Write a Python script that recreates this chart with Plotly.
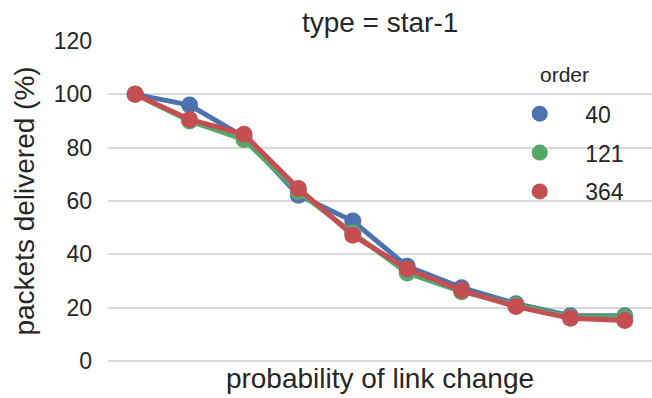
import plotly.graph_objects as go

# probability-of-link-change steps (categorical x, labels hidden)
link_change = ["0.0", "0.1", "0.2", "0.3", "0.4", "0.5", "0.6", "0.7", "0.8", "0.9"]

# packets delivered (%) per network order
order_40 = [100, 96, 84, 62.2, 52.5, 35.5, 27.5, 21.5, 17, 17]
order_121 = [100, 90, 83, 63.5, 48, 33, 26, 21, 16.5, 16.5]
order_364 = [100, 90.6, 85, 64.7, 47.2, 34.5, 26.5, 20.4, 16, 15.2]

series = [
    ("40", order_40, "#4C72B0"),
    ("121", order_121, "#55A868"),
    ("364", order_364, "#C44E52"),
]

FONT = "Liberation Sans, Arial, sans-serif"
TEXT = "#262626"

fig = go.Figure()
for name, vals, color in series:
    fig.add_trace(go.Scatter(
        x=link_change, y=vals, mode="lines",
        line=dict(color=color, width=5),
        showlegend=False, legendgroup=name, hoverinfo="skip",
        cliponaxis=False,
    ))
    fig.add_trace(go.Scatter(
        x=link_change, y=vals, mode="markers", name=name,
        marker=dict(color=color, size=17),
        legendgroup=name, cliponaxis=False,
    ))

fig.update_layout(
    width=652, height=398,
    margin=dict(l=108, r=0, t=41, b=37),
    paper_bgcolor="white", plot_bgcolor="white",
    font=dict(family=FONT, color=TEXT, size=23),
    title=dict(text="type = star-1", x=0.583, xanchor="center",
               y=0.945, yanchor="middle", font=dict(size=28, color=TEXT)),
    legend=dict(
        x=0.710, xanchor="left", y=0.840, yanchor="top",
        bgcolor="rgba(0,0,0,0)", font=dict(size=23),
        tracegroupgap=6, itemwidth=81,
    ),
    annotations=[dict(
        text="order", xref="paper", yref="paper", x=0.840, y=0.894,
        xanchor="center", yanchor="middle", showarrow=False,
        font=dict(size=21, color=TEXT),
    )],
)

fig.update_xaxes(
    type="category", range=[-0.5, 9.5],
    showticklabels=False, showgrid=False, zeroline=False, showline=False,
    title=dict(text="probability of link change", font=dict(size=28), standoff=7),
)
fig.update_yaxes(
    range=[0, 120], tickvals=[0, 20, 40, 60, 80, 100, 120],
    showgrid=True, gridcolor="#d9d9d9", gridwidth=1.5,
    zeroline=True, zerolinecolor="#d9d9d9", zerolinewidth=1.5,
    showline=False, ticks="", ticklabelstandoff=15,
    tickfont=dict(size=23),
    title=dict(text="packets delivered (%)", font=dict(size=28), standoff=10),
)

fig.write_html("out.html")
